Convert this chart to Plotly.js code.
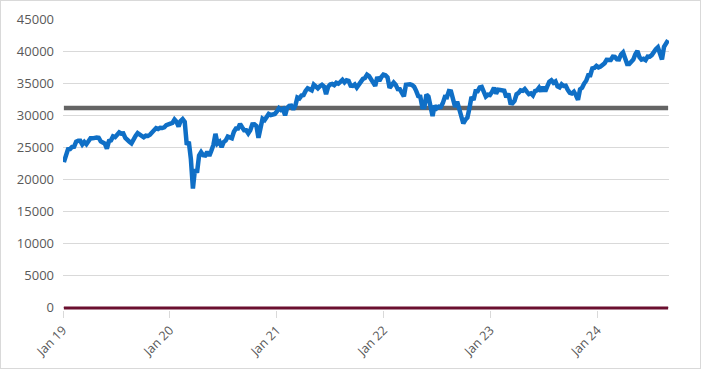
<!DOCTYPE html>
<html><head><meta charset="utf-8">
<script src="https://cdn.plot.ly/plotly-3.0.1.min.js"></script>
<style>html,body{margin:0;padding:0;background:#fff}#c{width:701px;height:369px;box-sizing:border-box;border:1px solid #d9d9d9}</style>
</head><body><div id="c"></div>
<script>
// Weekly (Friday) closes, starting 2019-01-04
const startDate = '2019-01-04';
const v2019 = [22700,23996,24706,24737,25064,25106,25883,26031,26026,25450,25849,25502,25929,26425,26412,26559,26543,26505,25942,25764,25586,24815,25984,26090,26719,26600,26922,27332,27154,27192,26485,26287,25886,25629,26403,26797,27220,26935,26820,26573,26817,26770,26958,27347,27681,28005,27876,28051,28015,28135,28455,28645];
const v2020 = [28634,28823,29348,28989,28256,29102,29398,28992,25409,25864,23186,18600,21637,21053,23719,24242,23775,23724,24331,23685,24465,25383,27111,25605,25871,25016,25827,26075,26672,26470,26428,27433,27931,27930,28654,28133,27666,27657,27174,27683,28587,28606,28336,26502,28323,29480,29263,29910,30218,30046,30179,30200,30606];
const v2021 = [31098,30814,30997,29983,31148,31458,31494,30932,31496,32779,32628,33072,33153,33801,34200,34043,33875,34778,34382,34208,34529,34756,34480,33290,34434,34786,34870,34688,35062,34935,35209,35515,35120,35456,35369,34608,34584,34798,34327,34746,35295,35677,35820,36328,36100,35601,34899,34580,35971,35365,35950,36338];
const v2022 = [36232,35912,34265,34725,35089,34738,34079,34059,33615,32944,34755,34861,34818,34721,34451,33811,32977,32899,31262,31262,33213,32900,31393,29889,31501,31097,31338,31289,31899,32845,32803,33761,33707,32283,31318,32152,30822,29590,28725,29297,29635,31083,32862,32403,33748,33746,34347,34430,33477,32920,33204,33147];
const v2023 = [33631,34303,33375,33978,33926,33870,33827,32817,33391,31910,31862,32238,33274,33485,33887,33809,34098,33674,33301,33427,33093,33763,33877,34299,33727,34408,33735,34509,35228,35459,35066,35281,34500,34347,34838,34577,34618,33964,33508,33408,33670,33127,32418,34061,34283,34947,35390,36246,36248,37306,37385,37690];
const v2024 = [37466,37593,37863,38109,38654,38672,38628,39131,39087,38723,38715,39476,39807,38904,37983,37986,38240,38676,39513,40004,39070,38686,38799,38589,39150,39119,39376,40001,40288,40589,39737,38703,40660,41175,41700];
const averageLevel = [31150];
const baseLevel = [0];
const tickDates = ['2019-01-01','2020-01-01','2021-01-01','2022-01-01','2023-01-01','2024-01-01'];
const tickLabels = ['Jan 19','Jan 20','Jan 21','Jan 22','Jan 23','Jan 24'];

const values = [].concat(v2019, v2020, v2021, v2022, v2023, v2024);
const dates = [];
const d0 = new Date(startDate + 'T00:00:00Z');
for (let i = 0; i < values.length; i++) {
  const d = new Date(d0.getTime() + i * 7 * 86400000);
  dates.push(d.toISOString().slice(0, 10));
}
const firstD = dates[0], lastD = dates[dates.length - 1];

const traces = [
  {x: [firstD, lastD], y: [baseLevel[0], baseLevel[0]], mode: 'lines', line: {color: '#6b0f2f', width: 3}, hoverinfo: 'skip'},
  {x: [firstD, lastD], y: [averageLevel[0], averageLevel[0]], mode: 'lines', line: {color: '#646464', width: 4.5}, hoverinfo: 'skip'},
  {x: dates, y: values, mode: 'lines', line: {color: '#0f6fc6', width: 4.5, shape: 'linear'}}
];
const layout = {
  width: 699, height: 367,
  margin: {l: 62, r: 31, t: 18, b: 58},
  paper_bgcolor: '#fff', plot_bgcolor: '#fff',
  showlegend: false,
  font: {family: 'Open Sans, sans-serif', color: '#595959', size: 12},
  xaxis: {
    type: 'date', range: ['2019-01-01', '2024-09-02'],
    tickvals: tickDates, ticktext: tickLabels, tickangle: -45,
    showgrid: false, zeroline: false, showline: false,
    ticks: 'outside', ticklen: 7, tickcolor: '#d9d9d9',
    tickfont: {size: 12.5, color: '#595959'}
  },
  yaxis: {
    range: [-330, 45000], tickvals: [0,5000,10000,15000,20000,25000,30000,35000,40000,45000], tickformat: 'd',
    gridcolor: '#d9d9d9', gridwidth: 1, zeroline: false, showline: false,
    ticks: '', tickfont: {size: 13, color: '#595959'}, ticklabelstandoff: 8
  }
};
Plotly.newPlot('c', traces, layout, {displayModeBar: false, staticPlot: true});
</script></body></html>
